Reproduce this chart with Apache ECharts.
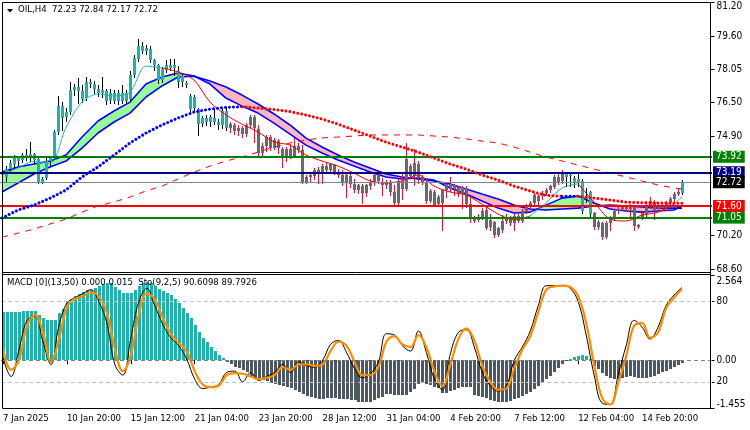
<!DOCTYPE html>
<html>
<head>
<meta charset="utf-8">
<script src="https://cdn.jsdelivr.net/npm/echarts@6/dist/echarts.min.js"></script>
<style>
html,body{margin:0;padding:0;background:#fff;}
#chart{width:750px;height:430px;}
</style>
</head>
<body>
<div id="chart"></div>
<script>
// ================= DATA =================
const titleText = 'OIL,H4  72.23 72.84 72.17 72.72';
const subTitleText = 'MACD [0](13,50) 0.000 0.015  Sto(9,2,5) 90.6098 89.7926';
const timeLabels = ['7 Jan 2025','10 Jan 20:00','15 Jan 12:00','21 Jan 04:00','23 Jan 20:00','28 Jan 12:00','31 Jan 04:00','4 Feb 20:00','7 Feb 12:00','12 Feb 04:00','14 Feb 20:00'];
const priceTicks = [68.60, 70.20, 74.90, 76.50, 78.05, 79.60, 81.20];
const macdTicks = [-1.455, 0, 2.564];
const stochTicks = [20, 80];
const levelPrices = [73.92, 73.19, 72.72, 71.60, 71.05];
const levelColors = ['#008000', '#000080', '#778899', '#FF0000', '#008000'];
const levelBoxColors = ['#008000', '#000080', '#000000', '#FF0000', '#008000'];

// OHLC per H4 bar: [open, high, low, close]
const ohlc = [
[73.05,73.30,72.80,73.10],[72.95,73.50,72.75,73.35],[73.35,73.75,73.20,73.65],[73.60,74.00,73.45,73.85],[73.85,73.92,73.55,73.72],
[73.75,74.10,73.68,74.00],[74.00,74.30,73.78,73.90],[73.88,74.62,73.70,74.05],[74.05,74.10,73.62,73.75],[73.80,73.95,72.66,72.75],
[72.75,72.98,72.66,72.88],[72.90,73.85,72.85,73.70],[73.70,73.98,73.55,73.85],[73.90,75.20,73.85,75.10],[75.10,76.80,75.00,76.30],
[76.30,76.50,75.20,75.75],[75.80,76.20,75.60,76.05],[76.05,77.46,75.95,77.05],[77.05,77.35,76.85,77.20],[77.20,77.62,76.45,77.00],
[77.00,77.30,76.50,76.65],[76.70,77.70,76.60,77.45],[77.45,77.60,77.20,77.35],[77.35,77.50,76.95,77.10],[77.10,77.30,76.80,76.95],
[76.95,77.70,76.75,77.05],[77.00,77.10,76.40,76.55],[76.60,77.10,76.45,76.95],[76.95,77.05,76.45,76.55],[76.55,77.05,76.40,76.95],
[76.95,77.30,76.45,76.55],[76.55,77.05,76.45,76.95],[76.65,77.95,76.55,77.80],[77.80,78.70,77.70,78.60],[78.55,79.48,78.45,79.15],
[79.15,79.35,78.80,78.90],[78.90,79.20,78.75,79.05],[79.00,79.15,78.40,78.50],[78.50,78.55,78.00,78.25],[78.25,78.30,77.40,77.55],
[77.55,78.15,77.45,78.05],[78.00,78.50,77.90,78.25],[78.25,78.55,78.00,78.10],[78.10,78.55,77.80,78.25],[77.95,78.20,77.20,77.45],
[77.45,77.85,77.25,77.75],[77.40,77.50,77.20,77.30],[76.80,76.90,76.05,76.15],[76.20,76.85,76.10,76.75],[76.15,76.20,74.95,75.45],
[75.45,75.85,75.35,75.75],[75.75,75.90,75.40,75.55],[75.55,75.90,75.35,75.80],[75.75,76.20,75.45,75.55],[75.55,75.70,75.25,75.40],
[75.40,76.20,75.30,76.10],[76.10,76.25,75.20,75.30],[75.30,75.55,75.10,75.45],[75.42,75.50,75.00,75.12],[75.12,75.40,74.95,75.30],
[75.28,75.35,74.85,74.98],[74.98,75.50,74.90,75.40],[75.40,75.90,75.30,75.80],[75.80,75.88,74.60,75.30],[75.25,75.40,73.90,74.10],
[74.10,74.55,73.95,74.45],[74.45,74.95,74.20,74.85],[74.85,74.95,74.25,74.35],[74.35,74.80,74.30,74.70],[74.65,74.75,74.10,74.35],
[74.30,74.40,73.45,73.85],[73.85,74.40,73.70,74.30],[74.30,74.50,73.85,73.95],[73.95,74.79,73.90,74.45],[74.45,74.55,74.15,74.25],
[74.25,74.47,72.66,72.75],[72.75,73.05,72.68,72.98],[72.95,73.15,72.78,73.05],[73.00,73.40,72.88,73.28],[73.28,73.45,72.68,73.15],
[73.15,73.60,72.66,73.50],[73.50,73.65,73.20,73.30],[73.30,73.65,73.20,73.58],[73.55,73.60,73.10,73.22],[73.22,73.35,72.95,73.05],
[73.05,73.30,72.60,72.66],[72.66,73.15,72.04,73.05],[73.00,73.10,72.50,72.62],[72.65,72.85,72.25,72.35],[72.35,72.65,72.20,72.58],
[72.55,72.62,71.72,72.20],[72.20,72.65,72.05,72.58],[72.55,72.85,72.40,72.75],[72.75,73.10,72.60,73.05],[73.05,73.15,72.70,72.78],
[72.75,72.90,72.10,72.58],[72.58,72.82,72.45,72.75],[72.75,72.82,72.10,72.28],[72.28,72.60,71.70,71.75],[71.75,72.85,71.70,72.80],
[72.80,73.20,71.95,72.38],[72.40,74.55,72.35,73.80],[73.50,73.60,72.95,73.00],[73.00,74.31,72.59,73.65],[73.60,73.70,72.70,72.95],
[72.95,73.05,72.65,72.75],[72.75,72.85,71.72,71.82],[71.85,72.40,71.80,72.30],[72.28,72.35,71.60,71.65],[71.68,72.10,71.60,72.02],
[71.75,72.40,70.46,72.35],[72.35,72.75,72.00,72.65],[72.65,72.98,72.30,72.38],[72.38,72.65,72.10,72.58],[72.50,72.55,72.05,72.15],
[72.15,72.55,71.50,72.48],[72.45,72.55,71.55,71.70],[71.70,72.05,70.85,71.00],[71.00,71.15,70.85,70.90],[70.95,71.20,70.90,71.10],
[71.10,71.50,71.00,71.38],[71.40,71.60,70.50,70.55],[70.60,71.20,70.45,70.95],[70.85,70.90,70.15,70.25],[70.25,70.62,70.20,70.55],
[70.45,71.17,70.38,70.88],[70.88,71.20,70.80,71.10],[71.08,71.15,70.70,70.82],[70.82,71.25,70.48,71.15],[71.12,71.20,70.85,70.90],
[70.90,71.45,70.85,71.35],[71.35,71.70,71.25,71.60],[71.55,71.85,71.50,71.75],[71.72,72.20,71.65,72.10],[71.85,72.15,71.70,72.05],
[72.05,72.30,71.95,72.22],[72.20,72.45,72.10,72.35],[72.35,72.60,72.28,72.52],[72.50,73.05,72.45,72.98],[72.95,73.10,72.65,72.75],
[72.78,73.30,72.70,73.12],[73.10,73.22,72.55,72.98],[73.00,73.15,72.55,73.05],[72.90,73.00,72.50,72.72],[72.75,73.18,72.55,72.85],
[72.80,72.85,71.25,71.35],[71.95,72.45,71.80,72.05],[72.25,72.30,71.10,71.20],[71.25,71.30,70.50,70.60],[70.60,70.95,70.50,70.85],
[70.80,70.85,70.05,70.15],[70.15,70.90,70.10,70.80],[70.80,71.15,70.45,71.05],[71.05,71.45,70.95,71.35],[71.35,71.55,71.25,71.45],
[71.45,71.65,71.40,71.60],[71.58,71.62,71.35,71.45],[71.45,71.70,71.15,71.60],[71.58,71.65,70.48,70.65],[70.70,70.75,70.55,70.60],
[71.10,71.35,71.00,71.25],[71.20,71.85,71.10,71.65],[71.62,72.00,71.50,71.85],[71.80,71.90,71.00,71.40],[71.45,71.75,71.35,71.65],
[71.62,71.80,71.40,71.50],[71.50,71.85,71.40,71.75],[71.72,72.00,71.62,71.95],[71.95,72.25,71.85,72.18],[72.18,72.45,72.10,72.28],
[72.23,72.84,72.17,72.72]
];
// bar ranges painted teal (trend colouring); others grey
const tealBarRanges = [[0,56],[141,147],[170,170]];

// moving averages, read every 4th bar
const maIndex = [0,4,8,12,16,20,24,28,32,36,40,44,48,52,56,60,64,68,72,76,80,84,88,92,96,100,104,108,112,116,120,124,128,132,136,140,144,148,152,156,160,164,168,170];
const maFast = [73.20,73.44,73.58,73.72,74.00,74.85,75.61,76.08,76.50,77.35,77.68,77.87,77.73,77.35,76.69,76.31,75.98,75.51,74.99,74.47,74.10,73.77,73.48,73.20,72.97,72.87,72.92,72.82,72.45,72.16,71.83,71.50,71.27,71.31,71.64,71.97,72.07,71.74,71.46,71.36,71.31,71.36,71.41,71.60];
const maSlow = [72.26,72.68,73.11,73.44,73.72,74.33,75.04,75.56,75.98,76.74,77.26,77.68,77.72,77.49,77.21,76.83,76.41,75.94,75.42,74.80,74.38,74.00,73.67,73.39,73.11,72.97,72.87,72.78,72.64,72.40,72.16,71.93,71.64,71.46,71.41,71.46,71.50,71.60,71.64,71.60,71.55,71.50,71.50,71.50];
const dotMA = [71.03,71.41,71.64,71.97,72.35,72.97,73.44,74.00,74.57,75.04,75.42,75.75,76.03,76.17,76.25,76.28,76.22,76.15,76.05,75.89,75.70,75.46,75.18,74.90,74.61,74.38,74.14,73.86,73.58,73.34,73.06,72.82,72.54,72.31,72.10,72.05,72.06,71.97,71.88,71.78,71.75,71.74,71.73,71.73];
const longMA = [70.13,70.32,70.51,70.75,70.98,71.31,71.60,71.79,72.02,72.31,72.54,72.87,73.20,73.48,73.72,73.91,74.14,74.38,74.57,74.71,74.81,74.85,74.90,74.95,74.95,74.95,74.95,74.90,74.85,74.76,74.66,74.57,74.38,74.14,73.91,73.72,73.53,73.34,73.15,72.97,72.78,72.59,72.45,72.40];
const thinMA = [73.06,73.39,73.70,73.60,75.30,76.50,76.88,76.79,76.97,78.20,78.11,77.92,77.54,76.50,75.89,75.46,75.09,74.62,74.47,74.00,73.72,73.48,73.15,72.78,72.68,72.78,73.06,72.54,72.26,72.12,71.69,71.22,70.94,71.13,71.74,72.45,72.64,71.79,70.98,70.89,71.17,71.31,71.69,72.02];
const thinUpRanges = [[0,40],[132,144],[168,170]];

// MACD histogram, one value per bar
const macdHist = [
1.44,1.44,1.44,1.45,1.45,1.47,1.47,1.48,1.47,1.37,
1.27,1.22,1.21,1.22,1.42,1.54,1.74,1.82,1.92,1.98,
2.05,2.11,2.12,2.18,2.23,2.28,2.31,2.33,2.19,2.11,
2.03,2.01,2.01,2.11,2.23,2.33,2.35,2.31,2.23,2.14,
2.07,2.03,1.95,1.84,1.72,1.57,1.42,1.27,1.06,0.86,
0.66,0.56,0.39,0.28,0.15,0.08,-0.06,-0.12,-0.20,-0.25,
-0.30,-0.35,-0.50,-0.54,-0.58,-0.61,-0.62,-0.68,-0.71,-0.74,
-0.78,-0.82,-0.85,-0.91,-0.96,-1.02,-1.08,-1.12,-1.15,-1.16,
-1.16,-1.15,-1.15,-1.15,-1.16,-1.16,-1.17,-1.19,-1.21,-1.25,
-1.27,-1.27,-1.26,-1.20,-1.14,-1.10,-1.03,-1.01,-1.05,-1.06,
-1.06,-1.04,-0.95,-0.88,-0.72,-0.70,-0.71,-0.76,-0.80,-0.85,
-0.98,-1.00,-0.92,-0.90,-0.84,-0.82,-0.80,-0.82,-1.05,-1.09,
-1.10,-1.15,-1.19,-1.23,-1.25,-1.27,-1.25,-1.22,-1.18,-1.13,
-1.08,-1.03,-0.97,-0.88,-0.78,-0.65,-0.58,-0.48,-0.35,-0.25,
-0.12,-0.03,0.05,0.10,0.14,0.16,0.14,0.04,-0.18,-0.28,
-0.40,-0.48,-0.54,-0.57,-0.57,-0.53,-0.50,-0.49,-0.51,-0.54,
-0.55,-0.54,-0.51,-0.47,-0.42,-0.37,-0.32,-0.26,-0.20,-0.14,
-0.08
];

// Stochastic, read every 2nd bar
const stochMain = [38,24,44,66,69,50,33,62,79,83,86,89,80,64,33,25,53,80,90,77,63,53,47,37,22,15,16,18,27,28,20,27,21,24,27,33,27,35,32,31,36,48,51,42,30,23,26,35,56,55,47,43,58,42,22,14,41,57,59,46,27,17,13,17,36,46,58,77,92,92,92,90,80,55,25,4,3,25,47,66,61,52,61,77,85,90.61];
const stochSignal = [45,29,36,62,70,57,35,52,76,82,84,87,84,72,45,28,40,70,86,82,68,56,49,43,28,18,16,17,25,26.5,26,24,22,23,25,31,29,33,33,32,33,43,50,47,35,25,25,31,50,54,48,46,55,46,28,17,33,52,60,51,32,20,14,15,30,44,54,72,89,91.5,92,91,84,64,33,8,3,19,39,62,64,53,57,75,83,89.79];

// ================= STYLE =================
const FONT = "'DejaVu Sans Condensed','Liberation Sans',sans-serif";
const TEAL = '#20B2AA', GREYBODY = '#696969', CRIMSON = '#DC143C', DARK = '#4E5863';
const NCAT = 178; // 171 bars + right shift space
const cats = Array.from({length: NCAT}, (_, i) => String(i));
const stochIndex = stochMain.map((_, k) => 2 * k);

function inRanges(i, ranges) { return ranges.some(r => i >= r[0] && i <= r[1]); }
function inRangesOpen(i, ranges) { return ranges.some(r => i >= r[0] && i < r[1]); }

// split a polyline into runs of equally-coloured segments
function runs(idx, vals, clsFn) {
  const out = [];
  let cur = null;
  for (let k = 0; k < idx.length - 1; k++) {
    const c = clsFn(k);
    if (!cur || cur.cls !== c) {
      cur = {cls: c, data: [[idx[k], vals[k]]]};
      out.push(cur);
    }
    cur.data.push([idx[k + 1], vals[k + 1]]);
  }
  return out;
}

function renderCandle(params, api) {
  const i = api.value(0);
  const pO = api.coord([i, api.value(1)]);
  const pH = api.coord([i, api.value(2)]);
  const pL = api.coord([i, api.value(3)]);
  const pC = api.coord([i, api.value(4)]);
  const cx = Math.round(pO[0]);
  const teal = inRanges(i, tealBarRanges);
  const top = Math.round(Math.min(pO[1], pC[1]));
  const bot = Math.round(Math.max(pO[1], pC[1]));
  return {type: 'group', children: [
    {type: 'line', shape: {x1: cx + 0.5, y1: Math.round(pH[1]), x2: cx + 0.5, y2: Math.round(pL[1]) + 1},
     style: {stroke: teal ? '#000' : CRIMSON, lineWidth: 1}},
    {type: 'rect', shape: {x: cx - 1, y: top, width: 3, height: Math.max(1, bot - top)},
     style: {fill: teal ? TEAL : GREYBODY}}
  ]};
}

function renderRibbon(params, api) {
  const iA = api.value(0), fA = api.value(1), sA = api.value(2);
  const iB = api.value(3), fB = api.value(4), sB = api.value(5);
  const dA = fA - sA, dB = fB - sB;
  const FA = api.coord([iA, fA]), SA = api.coord([iA, sA]);
  const FB = api.coord([iB, fB]), SB = api.coord([iB, sB]);
  const col = d => d >= 0 ? '#98FB98' : '#FFB6C1';
  if (dA * dB >= 0) {
    return {type: 'polygon', shape: {points: [FA, FB, SB, SA]}, style: {fill: col(dA + dB)}};
  }
  const t = dA / (dA - dB);
  const X = [FA[0] + (FB[0] - FA[0]) * t, FA[1] + (FB[1] - FA[1]) * t];
  return {type: 'group', children: [
    {type: 'polygon', shape: {points: [FA, X, SA]}, style: {fill: col(dA)}},
    {type: 'polygon', shape: {points: [X, FB, SB]}, style: {fill: col(dB)}}
  ]};
}

function renderHist(params, api) {
  const i = api.value(0), v = api.value(1);
  const p0 = api.coord([i, 0]), p1 = api.coord([i, v]);
  const x = Math.round(p0[0]) - 1;
  const y0 = Math.round(p0[1]), y1 = Math.round(p1[1]);
  return {type: 'rect', shape: {x: x, y: Math.min(y0, y1), width: 3, height: Math.max(1, Math.abs(y1 - y0))},
          style: {fill: v >= 0 ? TEAL : DARK}};
}

const ribbonData = [];
for (let k = 0; k < maIndex.length - 1; k++) {
  ribbonData.push([maIndex[k], maFast[k], maSlow[k], maIndex[k + 1], maFast[k + 1], maSlow[k + 1]]);
}

const series = [];
series.push({type: 'custom', xAxisIndex: 0, yAxisIndex: 0, z: 1, renderItem: renderRibbon,
  data: ribbonData, encode: {x: [0, 3], y: [1, 2, 4, 5]}, silent: true, clip: true});
series.push({type: 'line', xAxisIndex: 0, yAxisIndex: 0, z: 2, showSymbol: false, silent: true,
  data: maIndex.map((i, k) => [i, maFast[k]]), lineStyle: {color: '#0000FF', width: 1.6}});
series.push({type: 'line', xAxisIndex: 0, yAxisIndex: 0, z: 2, showSymbol: false, silent: true,
  data: maIndex.map((i, k) => [i, maSlow[k]]), lineStyle: {color: '#0000FF', width: 1.6}});
series.push({type: 'custom', xAxisIndex: 0, yAxisIndex: 0, z: 3, renderItem: renderCandle,
  data: ohlc.map((b, i) => [i, b[0], b[1], b[2], b[3]]), encode: {x: 0, y: [1, 2, 3, 4]}, silent: true, clip: true});
series.push({type: 'line', xAxisIndex: 0, yAxisIndex: 0, z: 4, showSymbol: false, silent: true,
  data: maIndex.map((i, k) => [i, longMA[k]]), lineStyle: {color: '#FF0000', width: 1, type: [6, 6]}});
runs(maIndex, thinMA, k => inRangesOpen(maIndex[k], thinUpRanges) ? 'up' : 'dn').forEach(r => {
  series.push({type: 'line', xAxisIndex: 0, yAxisIndex: 0, z: 4, showSymbol: false, silent: true, smooth: 0.3,
    data: r.data, lineStyle: {color: r.cls === 'up' ? TEAL : '#FF0000', width: 1}});
});
runs(maIndex, dotMA, k => dotMA[k + 1] > dotMA[k] ? 'up' : 'dn').forEach(r => {
  series.push({type: 'line', xAxisIndex: 0, yAxisIndex: 0, z: 5, showSymbol: false, silent: true,
    data: r.data, lineStyle: {color: r.cls === 'up' ? '#0000FF' : '#FF0000', width: 3, type: [0.01, 4], cap: 'round'}});
});
// horizontal levels with price boxes
series.push({type: 'line', xAxisIndex: 0, yAxisIndex: 0, z: 6, data: [], silent: true,
  markLine: {symbol: 'none', silent: true, animation: false,
    data: levelPrices.map((p, k) => ({yAxis: p,
      lineStyle: {color: levelColors[k], width: k === 2 ? 1 : 2, type: 'solid'},
      label: {show: true, position: 'end', distance: 1, formatter: p.toFixed(2), color: '#fff',
              backgroundColor: levelBoxColors[k], padding: [1, 3, 0, 3], fontSize: 10, fontFamily: FONT, lineHeight: 11}}))}});

// lower pane
series.push({type: 'custom', xAxisIndex: 1, yAxisIndex: 1, z: 1, renderItem: renderHist,
  data: macdHist.map((v, i) => [i, v]), encode: {x: 0, y: 1}, silent: true, clip: true});
series.push({type: 'line', xAxisIndex: 1, yAxisIndex: 1, z: 2, data: [], silent: true,
  markLine: {symbol: 'none', silent: true, animation: false, label: {show: false},
    data: [{yAxis: 0, lineStyle: {color: '#808080', width: 1, type: [4, 3]}}]}});
series.push({type: 'line', xAxisIndex: 1, yAxisIndex: 2, z: 3, showSymbol: false, silent: true, smooth: 0.4,
  data: stochIndex.map((i, k) => [i, stochMain[k]]), lineStyle: {color: '#000', width: 1},
  markLine: {symbol: 'none', silent: true, animation: false, label: {show: false},
    data: stochTicks.map(v => ({yAxis: v, lineStyle: {color: '#C0C0C0', width: 1, type: [4, 3]}}))}});
series.push({type: 'line', xAxisIndex: 1, yAxisIndex: 2, z: 4, showSymbol: false, silent: true, smooth: 0.4,
  data: stochIndex.map((i, k) => [i, stochSignal[k]]), lineStyle: {color: '#FF8C00', width: 2.2}});

const lbl = {color: '#000', fontSize: 10, fontFamily: FONT};
const border = (x1, y1, x2, y2) => ({type: 'line', z: 100, silent: true,
  shape: {x1, y1, x2, y2}, style: {stroke: '#000', lineWidth: 1}});

const option = {
  animation: false,
  backgroundColor: '#ffffff',
  grid: [
    {left: 0, top: 2, width: 712, height: 268},
    {left: 0, top: 275, width: 712, height: 133.5}
  ],
  xAxis: [
    {type: 'category', gridIndex: 0, data: cats, boundaryGap: true,
     axisLine: {show: false}, axisTick: {show: false}, axisLabel: {show: false}, splitLine: {show: false}},
    {type: 'category', gridIndex: 1, data: cats, boundaryGap: true,
     axisLine: {show: false},
     axisTick: {show: true, alignWithLabel: true, length: 4, lineStyle: {color: '#000'},
                interval: (idx) => idx % 16 === 0 && idx / 16 < timeLabels.length},
     axisLabel: {show: true, ...lbl, fontSize: 9.5, align: 'left', margin: 5,
                 interval: (idx) => idx % 16 === 0 && idx / 16 < timeLabels.length,
                 formatter: (v, idx) => timeLabels[idx / 16] || ''},
     splitLine: {show: false}}
  ],
  yAxis: [
    {type: 'value', gridIndex: 0, position: 'right', min: 68.58, max: 81.22, offset: -1.5,
     axisLine: {show: false}, splitLine: {show: false},
     axisTick: {show: true, length: 4, lineStyle: {color: '#000'}, customValues: priceTicks},
     axisLabel: {show: true, ...lbl, margin: 6, customValues: priceTicks,
                 formatter: v => Math.abs(v - 81.2) < 1e-6 ? '{t|81.20}' : v.toFixed(2),
                 rich: {t: {...lbl, padding: [7, 0, 0, 0]}}}},
    {type: 'value', gridIndex: 1, position: 'right', min: -1.455, max: 2.564, offset: -1.5,
     axisLine: {show: false}, splitLine: {show: false},
     axisTick: {show: true, length: 4, lineStyle: {color: '#000'}, customValues: macdTicks},
     axisLabel: {show: true, ...lbl, margin: 6, customValues: macdTicks,
                 formatter: v => Math.abs(v - 2.564) < 1e-6 ? '{t|2.564}' : (Math.abs(v + 1.455) < 1e-6 ? '{b|-1.455}' : '0.00'),
                 rich: {t: {...lbl, padding: [13, 0, 0, 0]}, b: {...lbl, padding: [0, 0, 9, 0]}}}},
    {type: 'value', gridIndex: 1, position: 'right', min: 0, max: 100, offset: -1.5,
     axisLine: {show: false}, splitLine: {show: false},
     axisTick: {show: true, length: 4, lineStyle: {color: '#000'}, customValues: stochTicks},
     axisLabel: {show: true, ...lbl, margin: 6, customValues: stochTicks, formatter: v => String(v)}}
  ],
  graphic: [
    border(2.5, 2.5, 710.5, 2.5),
    border(2.5, 2.5, 2.5, 408.5),
    border(710.5, 2.5, 710.5, 408.5),
    border(2.5, 272.5, 710.5, 272.5),
    border(2.5, 274.5, 710.5, 274.5),
    border(2.5, 408.5, 710.5, 408.5),
    {type: 'polygon', z: 100, silent: true, shape: {points: [[7, 9], [13, 9], [10, 12.5]]}, style: {fill: '#000'}},
    {type: 'text', z: 100, silent: true, left: 18, top: 5, style: {text: titleText, fill: '#000', font: '9.5px ' + FONT}},
    {type: 'text', z: 100, silent: true, left: 7, top: 277.5, style: {text: subTitleText, fill: '#000', font: '9.5px ' + FONT}}
  ],
  series: series
};

const chart = echarts.init(document.getElementById('chart'), null, {renderer: 'canvas'});
chart.setOption(option);
</script>
</body>
</html>
